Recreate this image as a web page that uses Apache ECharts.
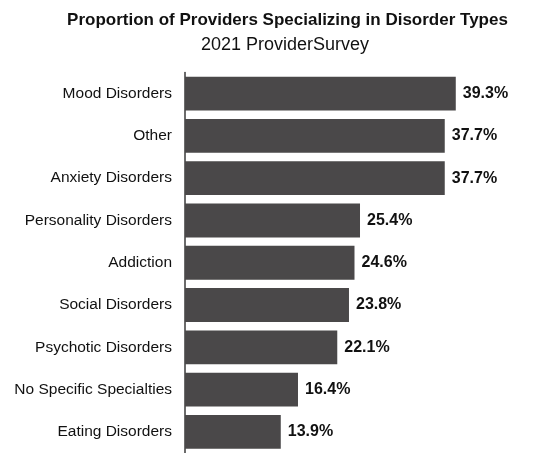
<!DOCTYPE html>
<html>
<head>
<meta charset="utf-8">
<script src="https://cdn.jsdelivr.net/npm/echarts@6/dist/echarts.min.js"></script>
<style>
  html, body { margin: 0; padding: 0; background: #ffffff; }
  #chart { width: 535px; height: 453px; }
</style>
</head>
<body>
<div id="chart"></div>
<script>
// Share of providers reporting each specialty (percent)
const categories = [
  'Mood Disorders',
  'Other',
  'Anxiety Disorders',
  'Personality Disorders',
  'Addiction',
  'Social Disorders',
  'Psychotic Disorders',
  'No Specific Specialties',
  'Eating Disorders'
];
const shares = [39.3, 37.7, 37.7, 25.4, 24.6, 23.8, 22.1, 16.4, 13.9];

const titleText = 'Proportion of Providers Specializing in Disorder Types';
const subtitleText = '2021 ProviderSurvey';

const fontFamily = '"Liberation Sans", Arial, Helvetica, sans-serif';

const chart = echarts.init(document.getElementById('chart'), null, { renderer: 'canvas' });

chart.setOption({
  backgroundColor: '#ffffff',
  animation: false,
  title: [
    {
      text: titleText,
      left: 282.5,
      top: 7,
      textAlign: 'center',
      textStyle: { fontFamily, fontSize: 17, fontWeight: 'bold', color: '#111111' }
    },
    {
      text: subtitleText,
      left: 280,
      top: 31,
      textAlign: 'center',
      textStyle: { fontFamily, fontSize: 18, fontWeight: 'normal', color: '#111111' }
    }
  ],
  grid: {
    left: 185,
    top: 72.5,
    width: 344.5,
    height: 383,
    containLabel: false
  },
  xAxis: {
    type: 'value',
    min: 0,
    max: 50,
    show: false
  },
  yAxis: {
    type: 'category',
    data: categories,
    inverse: true,
    axisLine: { show: true, lineStyle: { color: '#3a3a3a', width: 1.5 } },
    axisTick: { show: false },
    axisLabel: {
      margin: 13,
      fontFamily,
      fontSize: 15.5,
      color: '#111111'
    },
    splitLine: { show: false }
  },
  series: [
    {
      type: 'bar',
      data: shares,
      barCategoryGap: '20%',
      itemStyle: { color: '#4a4849' },
      label: {
        show: true,
        position: 'right',
        distance: 7,
        formatter: p => p.value.toFixed(1) + '%',
        fontFamily,
        fontSize: 16,
        fontWeight: 'bold',
        color: '#111111'
      }
    }
  ]
});
</script>
</body>
</html>
